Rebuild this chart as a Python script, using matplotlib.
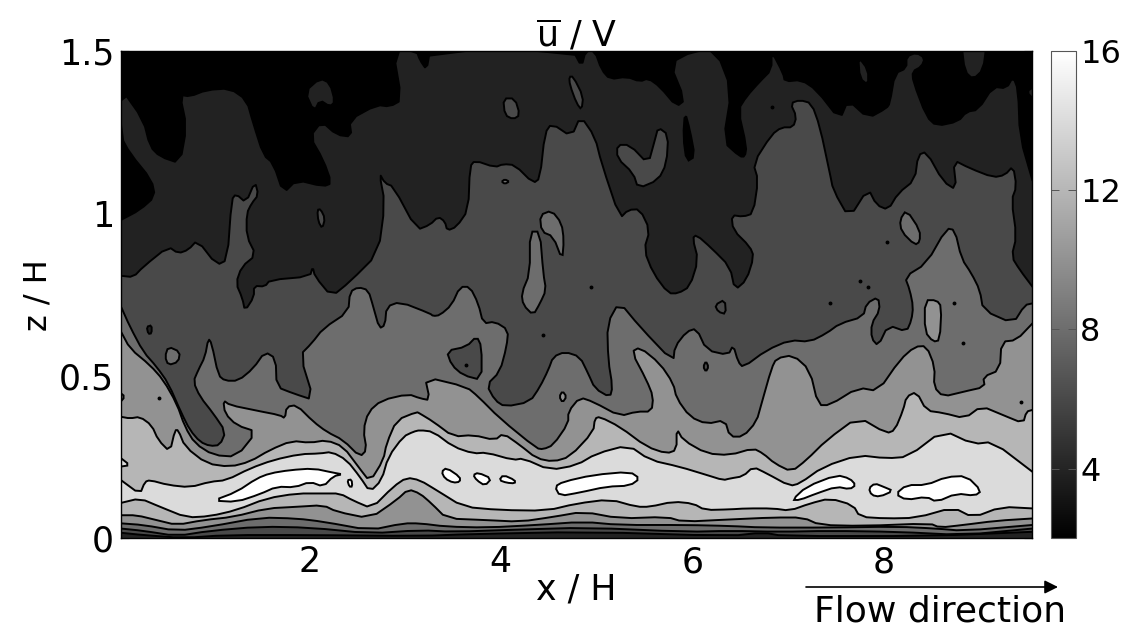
import numpy as np
import matplotlib
matplotlib.use("Agg")
import matplotlib.pyplot as plt
from matplotlib.cm import ScalarMappable
from matplotlib.colors import Normalize

plt.rcParams['font.family'] = ['DejaVu Sans']

# contour lines, (x/H, z/H) pairs, left to right
line_a = [(.035,.980),(.233,1.011),(.39,1.052),(.355,1.103),(.129,1.185),(.035,1.236),(.035,1.385),(.268,1.288),(.338,1.206),(.442,1.175),(.651,1.154),(.72,1.267),(.651,1.365),(.755,1.360),(.929,1.380),(1.173,1.385),(1.347,1.349),(1.416,1.277),(1.521,1.180),(1.625,1.154),(1.73,1.062),(1.869,1.103),(2.147,1.083),(2.234,1.093),(2.147,1.165),(2.008,1.236),(2.13,1.283),(2.286,1.242),(2.443,1.236),(2.419,1.288),(2.704,1.334),(2.843,1.329),(2.965,1.349),(2.878,1.5),(3.122,1.5),(3.156,1.472),(3.226,1.442),(3.26,1.5),(4.757,1.5),(4.844,1.452),(4.886,1.5),(4.983,1.5),(5.053,1.442),(5.14,1.413),(5.314,1.421),(5.453,1.406),(5.54,1.416),(5.662,1.390),(5.836,1.329),(5.923,1.349),(5.766,1.462),(6.01,1.5),(6.253,1.5),(6.41,1.38),(6.323,1.221),(6.497,1.175),(6.549,1.175),(6.566,1.206),(6.479,1.319),(6.566,1.360),(6.705,1.406),(6.827,1.442),(6.827,1.5),(6.949,1.431),(6.966,1.406),(7.14,1.411),(7.297,1.38),(7.54,1.288),(7.627,1.349),(7.836,1.293),(8.028,1.324),(8.062,1.339),(8.115,1.431),(8.236,1.447),(8.236,1.483),(8.341,1.495),(8.428,1.478),(8.393,1.452),(8.299,1.437),(8.306,1.406),(8.445,1.298),(8.55,1.269),(8.776,1.283),(8.863,1.313),(8.985,1.319),(9.141,1.390),(9.28,1.385),(9.35,1.421),(9.402,1.38),(9.42,1.236),(9.55,1.103)]

line_b = [(.035,.808),(.164,.804),(.268,.836),(.529,.898),(.633,.877),(.738,.888),(.832,.918),(1.034,.841),(1.145,.857),(1.19,1.042),(1.235,1.060),(1.34,1.033),(1.434,1.098),(1.469,1.057),(1.399,1.031),(1.347,1.0),(1.347,.929),(1.444,.872),(1.295,.836),(1.235,.785),(1.302,.739),(1.329,.700),(1.423,.743),(1.423,.777),(1.538,.775),(1.59,.795),(2.008,.806),(2.036,.836),(2.06,.806),(2.234,.744),(2.426,.790),(2.721,.877),(2.791,1.031),(2.732,1.124),(2.791,1.093),(2.878,1.083),(3.122,.949),(3.261,.965),(3.347,.990),(3.417,.975),(3.441,.947),(3.539,.959),(3.661,1.011),(3.678,1.144),(3.73,1.163),(3.939,1.142),(4.026,1.152),(4.148,1.149),(4.339,1.093),(4.409,1.108),(4.461,1.247),(4.531,1.277),(4.739,1.236),(4.833,1.300),(4.983,1.236),(5.053,1.154),(5.244,.985),(5.331,1.011),(5.453,1.013),(5.557,.949),(5.495,.888),(5.592,.816),(5.749,.754),(5.853,.754),(5.975,.775),(6.062,.857),(6.003,.924),(6.044,.934),(6.201,.893),(6.393,.836),(6.445,.764),(6.566,.795),(6.643,.867),(6.601,.898),(6.427,.949),(6.409,.995),(6.531,.990),(6.636,1.0),(6.688,1.103),(6.636,1.154),(6.827,1.242),(6.931,1.265),(7.053,1.265),(7.088,1.298),(7.025,1.339),(7.123,1.349),(7.245,1.339),(7.332,1.267),(7.436,1.124),(7.471,1.072),(7.638,.985),(7.836,1.077),(7.923,1.026),(8.045,1.011),(8.149,1.062),(8.323,1.103),(8.358,1.180),(8.445,1.190),(8.619,1.098),(8.758,1.072),(8.724,1.165),(8.898,1.139),(9.141,1.111),(9.263,1.118),(9.35,1.146),(9.385,1.083),(9.333,1.041),(9.385,.929),(9.333,.867),(9.42,.826),(9.55,.775)]

line_c = [(.035,.713),(.129,.651),(.268,.574),(.407,.528),(.529,.477),(.668,.384),(.755,.333),(.86,.297),(.964,.284),(1.068,.287),(1.128,.328),(.999,.384),(.86,.436),(.79,.482),(.842,.518),(.912,.559),(.947,.615),(.981,.600),(1.051,.502),(1.121,.485),(1.26,.485),(1.416,.523),(1.538,.574),(1.65,.554),(1.66,.466),(1.834,.446),(2.05,.425),(1.904,.564),(2.025,.600),(2.147,.646),(2.408,.697),(2.426,.759),(2.513,.773),(2.617,.764),(2.669,.713),(2.732,.646),(2.791,.656),(2.808,.713),(2.948,.728),(3.261,.692),(3.295,.684),(3.365,.687),(3.487,.718),(3.574,.774),(3.678,.774),(3.765,.723),(3.817,.661),(3.939,.667),(4.078,.641),(4.061,.590),(3.991,.513),(3.852,.472),(3.939,.425),(4.043,.405),(4.304,.420),(4.409,.466),(4.496,.518),(4.548,.559),(4.67,.574),(4.826,.559),(4.913,.507),(4.983,.461),(5.14,.434),(5.167,.466),(5.122,.549),(5.112,.661),(5.237,.728),(5.453,.651),(5.801,.543),(5.818,.590),(5.94,.636),(6.044,.646),(6.149,.579),(6.375,.564),(6.427,.595),(6.479,.543),(6.531,.526),(6.775,.579),(7.018,.610),(7.227,.605),(7.401,.631),(7.54,.661),(7.784,.682),(7.819,.723),(7.941,.743),(7.958,.702),(7.871,.661),(7.871,.615),(7.941,.592),(8.045,.656),(8.236,.636),(8.289,.672),(8.306,.713),(8.271,.764),(8.219,.805),(8.445,.846),(8.654,.954),(8.741,.949),(8.811,.861),(8.915,.815),(9.002,.764),(9.037,.702),(9.35,.661),(9.472,.718),(9.55,.723)]

line_d = [(.035,.636),(.129,.584),(.338,.533),(.477,.487),(.616,.415),(.703,.343),(.807,.292),(.999,.256),(1.242,.251),(1.451,.328),(1.242,.348),(1.121,.384),(1.103,.425),(1.173,.410),(1.451,.393),(1.695,.379),(1.747,.369),(1.764,.405),(1.869,.410),(2.043,.359),(2.182,.328),(2.356,.302),(2.53,.251),(2.6,.272),(2.565,.333),(2.617,.389),(2.756,.425),(3.035,.444),(3.156,.431),(3.26,.425),(3.208,.497),(3.643,.466),(3.765,.436),(3.991,.369),(4.374,.277),(4.444,.274),(4.548,.287),(4.705,.354),(4.705,.390),(4.826,.434),(4.966,.420),(5.244,.376),(5.418,.390),(5.575,.390),(5.592,.436),(5.522,.487),(5.366,.574),(5.453,.588),(5.662,.538),(5.801,.477),(5.836,.431),(5.975,.374),(6.149,.352),(6.34,.364),(6.392,.313),(6.531,.313),(6.670,.359),(6.723,.415),(6.827,.523),(6.879,.554),(7.053,.564),(7.227,.518),(7.314,.410),(7.436,.410),(7.732,.464),(7.941,.453),(8.167,.549),(8.323,.590),(8.445,.592),(8.532,.528),(8.522,.466),(8.619,.436),(8.828,.451),(9.054,.466),(9.037,.497),(9.211,.518),(9.228,.605),(9.385,.610),(9.55,.661)]

line_e = [(.035,.374),(.129,.369),(.233,.374),(.355,.348),(.425,.302),(.546,.266),(.599,.333),(.633,.333),(.703,.282),(.929,.230),(1.173,.220),(1.382,.236),(1.59,.272),(1.817,.300),(2.008,.294),(2.182,.302),(2.356,.282),(2.513,.220),(2.634,.174),(2.774,.241),(2.808,.292),(2.913,.364),(3.122,.389),(3.156,.384),(3.295,.359),(3.504,.313),(3.713,.318),(3.939,.302),(4.026,.323),(4.2,.287),(4.374,.246),(4.548,.236),(4.722,.251),(4.966,.328),(4.983,.369),(5.035,.374),(5.244,.343),(5.522,.282),(5.731,.261),(5.836,.272),(5.836,.338),(5.905,.302),(6.149,.261),(6.392,.256),(6.636,.277),(6.74,.261),(6.862,.230),(7.036,.205),(7.192,.241),(7.401,.302),(7.732,.374),(8.028,.323),(8.115,.333),(8.202,.395),(8.236,.436),(8.341,.451),(8.445,.393),(8.619,.386),(8.845,.369),(9.019,.407),(9.246,.379),(9.454,.354),(9.489,.390),(9.55,.395)]

line_f = [(.035,.179),(.233,.136),(.285,.174),(.338,.179),(.529,.164),(.755,.157),(.964,.174),(1.138,.179),(1.382,.215),(1.625,.241),(1.904,.259),(2.112,.261),(2.234,.266),(2.391,.241),(2.53,.189),(2.634,.143),(2.756,.179),(2.826,.251),(2.982,.313),(3.087,.328),(3.156,.333),(3.295,.328),(3.504,.282),(3.713,.261),(3.852,.264),(4.13,.241),(4.235,.246),(4.513,.210),(4.792,.225),(5.0,.261),(5.331,.287),(5.557,.241),(5.87,.220),(6.149,.195),(6.323,.179),(6.392,.184),(6.531,.191),(6.636,.220),(6.775,.200),(7.018,.161),(7.123,.169),(7.366,.220),(7.732,.256),(8.028,.246),(8.254,.251),(8.619,.333),(8.932,.290),(9.141,.297),(9.55,.205)]

line_g = [(.035,.109),(.233,.123),(.442,.097),(.72,.064),(.964,.068),(1.242,.087),(1.556,.123),(1.869,.138),(2.147,.138),(2.321,.138),(2.46,.116),(2.652,.092),(2.878,.159),(3.017,.187),(3.156,.179),(3.33,.148),(3.608,.097),(3.991,.087),(4.478,.085),(4.792,.107),(5.14,.120),(5.418,.097),(5.557,.097),(5.801,.113),(6.01,.107),(6.132,.087),(6.392,.089),(6.566,.092),(6.844,.092),(7.018,.085),(7.227,.107),(7.436,.123),(7.68,.102),(7.749,.066),(8.028,.061),(8.341,.063),(8.724,.095),(8.932,.064),(9.228,.097),(9.55,.092)]

line_h = [(.035,.071),(.198,.071),(.407,.056),(.616,.041),(.894,.056),(1.208,.066),(1.556,.092),(1.869,.097),(2.147,.102),(2.286,.082),(2.634,.061),(2.913,.118),(3.035,.151),(3.156,.138),(3.278,.107),(3.434,.061),(3.852,.056),(4.2,.051),(4.548,.066),(4.861,.082),(5.244,.061),(5.731,.066),(5.905,.051),(6.392,.058),(6.844,.064),(7.158,.064),(7.332,.041),(7.784,.038),(8.48,.046),(8.584,.033),(8.828,.041),(9.176,.054),(9.55,.061)]

line_i = [(.035,.046),(.268,.041),(.616,.023),(.964,.036),(1.486,.064),(1.869,.061),(2.147,.051),(2.634,.025),(2.982,.046),(3.156,.046),(3.434,.036),(3.852,.033),(4.374,.041),(4.861,.051),(5.244,.041),(5.94,.041),(6.392,.038),(6.74,.033),(7.436,.033),(8.132,.036),(8.55,.030),(8.828,.023),(9.55,.041)]

line_j = [(.035,.030),(.268,.023),(.616,.007),(.964,.023),(1.486,.036),(2.008,.033),(2.634,.015),(3.156,.025),(3.504,.020),(4.2,.027),(4.896,.033),(5.94,.020),(6.392,.023),(6.914,.020),(7.436,.023),(8.132,.020),(8.828,.010),(9.55,.030)]

line_k = [(.035,.017),(.268,.010),(.685,.001),(1.138,.010),(2.008,.010),(3.156,.007),(3.678,.013),(4.896,.020),(6.392,.007),(6.74,.018),(6.949,.007),(8.48,.007),(9.55,.020)]

# u/V of the band below each line, top of the plot downwards
band_lines = [line_a, line_b, line_c, line_d, line_e, line_f, line_g, line_h, line_i, line_j, line_k]
band_u = [3.9, 6, 8, 10, 12, 14, 12, 10, 8, 6, 3.9]

# closed patches: u/V inside, outline
patch_u = [3.9, 3.9, 3.9, 3.9, 2, 6, 6, 6, 6, 3.9, 8, 8, 8, 8, 8, 8, 6, 6, 6, 10, 10, 14, 16, 16, 16, 16, 16, 16, 16, 16, 16]
patch_lines = [
    [(1.956,1.375),(2.112,1.416),(2.217,1.401),(2.269,1.344),(2.217,1.329),(2.112,1.349),(2.05,1.313)],
    [(7.732,1.483),(7.836,1.442),(7.836,1.395),(7.749,1.416)],
    [(8.811,1.52),(9.072,1.52),(9.037,1.442),(8.932,1.413),(8.845,1.437)],
    [(9.57,1.390),(9.489,1.375),(9.57,1.349)],
    [(5.923,1.313),(5.905,1.236),(5.94,1.159),(6.027,1.175),(5.975,1.257)],
    [(2.085,1.011),(2.119,1.013),(2.165,.985),(2.137,.954),(2.095,.975)],
    [(4.026,1.354),(4.148,1.354),(4.2,1.303),(4.13,1.290),(4.043,1.303)],
    [(4.715,1.421),(4.757,1.421),(4.861,1.360),(4.844,1.319),(4.792,1.339),(4.722,1.395)],
    [(5.216,1.211),(5.348,1.211),(5.54,1.152),(5.609,1.226),(5.644,1.265),(5.749,1.242),(5.731,1.154),(5.644,1.103),(5.435,1.077),(5.383,1.124),(5.216,1.170)],
    [(.303,.651),(.355,.656),(.355,.631),(.32,.629)],
    [(.494,.559),(.529,.590),(.651,.574),(.633,.543),(.529,.533)],
    [(.015,.451),(.077,.436),(.015,.415)],
    [(4.304,.944),(4.409,.944),(4.444,.816),(4.473,.764),(4.409,.723),(4.339,.687),(4.235,.718),(4.217,.754),(4.304,.816)],
    [(4.409,.995),(4.531,1.009),(4.635,.970),(4.659,.918),(4.642,.857),(4.548,.929),(4.426,.944)],
    [(8.167,.980),(8.236,1.011),(8.376,.949),(8.376,.913),(8.323,.903),(8.184,.944)],
    [(4.009,1.098),(4.043,1.105),(4.089,1.098),(4.043,1.091)],
    [(3.434,.577),(3.643,.590),(3.748,.622),(3.8,.590),(3.8,.487),(3.608,.502),(3.487,.533)],
    [(6.236,.718),(6.34,.735),(6.351,.690),(6.271,.697)],
    [(6.114,.528),(6.142,.545),(6.17,.528),(6.142,.513)],
    [(4.611,.436),(4.645,.453),(4.687,.436),(4.645,.418)],
    [(8.428,.733),(8.55,.733),(8.602,.713),(8.584,.610),(8.515,.605),(8.428,.636)],
    [(.015,.251),(.129,.225),(.015,.220)],
    [(.999,.116),(1.242,.143),(1.451,.184),(1.59,.200),(1.799,.210),(2.043,.215),(2.252,.202),(2.346,.197),(2.252,.191),(2.147,.159),(2.008,.174),(1.851,.157),(1.66,.159),(1.486,.136),(1.242,.112)],
    [(2.398,.179),(2.443,.181),(2.45,.159),(2.419,.159)],
    [(3.382,.205),(3.434,.217),(3.574,.189),(3.574,.174),(3.504,.171),(3.417,.184)],
    [(3.713,.195),(3.765,.202),(3.904,.184),(3.835,.162),(3.748,.179)],
    [(3.984,.179),(4.026,.195),(4.148,.179),(4.148,.169),(4.061,.171)],
    [(4.565,.159),(4.652,.174),(4.966,.195),(5.348,.205),(5.453,.184),(5.348,.162),(5.105,.159),(4.826,.141),(4.618,.130)],
    [(7.043,.118),(7.192,.159),(7.506,.195),(7.645,.184),(7.707,.164),(7.645,.151),(7.506,.159),(7.297,.138),(7.123,.118)],
    [(7.843,.154),(7.906,.169),(7.993,.159),(8.097,.146),(7.958,.128),(7.871,.133)],
    [(8.122,.136),(8.236,.164),(8.445,.164),(8.654,.189),(8.863,.192),(9.019,.146),(8.95,.131),(8.758,.138),(8.55,.112),(8.445,.128),(8.236,.118)],
]

# tiny closed contours, too small to trace
dots_x = [4.938, 8.028, 6.827, 7.436, 8.731, 8.828, 9.437, 4.437, 3.636, .435, 7.75, 7.83]
dots_z = [.775, .913, 1.329, .725, .723, .600, .420, .625, .533, .431, .791, .775]

xticks = [2, 4, 6, 8]
zticks = [0, 0.5, 1, 1.5]
zlabels = ["0", "0.5", "1", "1.5"]
cbar_ticks = [4, 8, 12, 16]

xlim = (0.035, 9.55)
zlim = (0, 1.5)

norm = Normalize(2, 16)
cmap = plt.get_cmap("gray")
W, H = 1128, 630


def rounded(pts, closed=False):
    # one pass of corner cutting, the original contours are smooth
    pts = np.array(pts)
    if closed:
        pts = np.vstack((pts, pts[:1]))
    a, b = pts[:-1], pts[1:]
    out = np.empty((2*len(a), 2))
    out[0::2] = .75*a + .25*b
    out[1::2] = .25*a + .75*b
    if not closed:
        out = np.vstack((pts[:1], out, pts[-1:]))
    return out


fig = plt.figure(figsize=(W/100, H/100), dpi=100)
ax = fig.add_axes([121/W, 1-538.3/H, (1032.3-121)/W, (538.3-51)/H])
ax.set_facecolor(cmap(norm(2)))

for line, u in zip(band_lines, band_u):
    pts = rounded(line)
    ax.fill(np.r_[pts[:, 0], xlim[1], xlim[0]], np.r_[pts[:, 1], 0, 0],
            color=cmap(norm(u)), lw=0, zorder=2)
    ax.plot(pts[:, 0], pts[:, 1], color="k", lw=1.4, zorder=3)

for line, u in zip(patch_lines, patch_u):
    pts = rounded(line, closed=True)
    ax.fill(pts[:, 0], pts[:, 1], facecolor=cmap(norm(u)), edgecolor="k", lw=1.4, zorder=4)

ax.plot(dots_x, dots_z, "o", color="k", ms=1.8, zorder=5)

ax.set_xlim(xlim)
ax.set_ylim(zlim)
ax.set_xticks(xticks)
ax.set_yticks(zticks, zlabels)
ax.tick_params(direction="in", top=True, right=True, length=6, width=0.8,
               labelsize=25, pad=5)
for s in ax.spines.values():
    s.set_zorder(6)
    s.set_linewidth(1.0)

ax.set_xlabel("x / H", fontsize=25, labelpad=-5)
ax.set_ylabel("z / H", fontsize=23, labelpad=4)
ax.set_title(r"$\overline{\mathrm{u}}$ / V", fontsize=25, pad=3)

cax = fig.add_axes([1051/W, 1-538.3/H, 25/W, (538.3-51)/H])
cb = fig.colorbar(ScalarMappable(norm=norm, cmap=cmap), cax=cax)
cb.set_ticks(cbar_ticks)
cax.tick_params(direction="in", left=True, right=True, length=6, width=0.7,
                color="#555555", labelsize=23, pad=3)
cb.outline.set_edgecolor("#555555")

fig.text(940/W, 1-612/H, "Flow direction", fontsize=26, ha="center", va="center")
fig.add_artist(matplotlib.patches.FancyArrowPatch(
    (806/W, 1-587/H), (1058/W, 1-587/H), transform=fig.transFigure,
    arrowstyle="-|>", mutation_scale=20, color="k", lw=1.2, shrinkA=0, shrinkB=0))

fig.savefig("out.png", dpi=100)
